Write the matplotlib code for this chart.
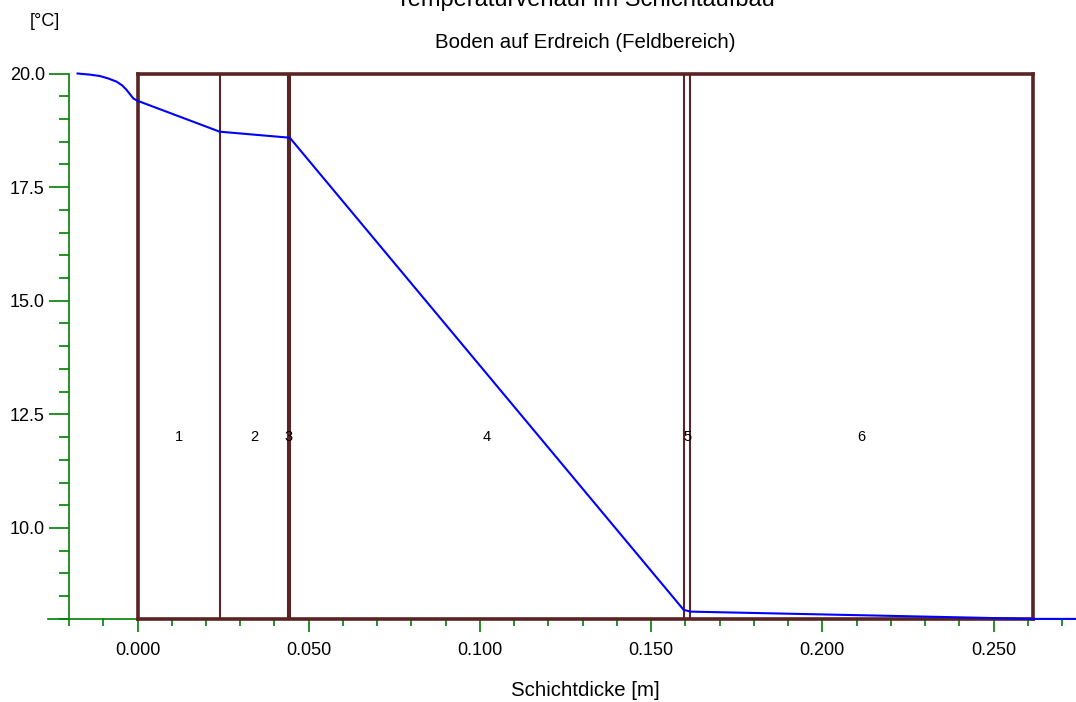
import matplotlib
matplotlib.use("Agg")
import matplotlib.pyplot as plt
from matplotlib.ticker import FixedLocator

plt.rcParams['font.family'] = ['Liberation Sans', 'DejaVu Sans']

# ---- data ----
layer_names = ["1", "2", "3", "4", "5", "6"]
layer_thickness = [0.024, 0.020, 0.0005, 0.115, 0.002, 0.100]  # m

# interior boundary-layer curve (left of x=0)
inner_x = [-0.0175, -0.0139, -0.0110, -0.0085, -0.0061, -0.0045, -0.0032, -0.0012, 0.0]
inner_t = [20.0, 19.975, 19.945, 19.89, 19.82, 19.74, 19.64, 19.45, 19.40]
# temperatures at layer interfaces
interface_t = [19.40, 18.72, 18.59, 18.585, 8.20, 8.16, 8.00]
outer_x = [0.2615, 0.2741]
outer_t = [8.00, 8.00]

x_ticks = [0.0, 0.05, 0.10, 0.15, 0.20, 0.25]
x_ticklabels = ["0.000", "0.050", "0.100", "0.150", "0.200", "0.250"]
y_ticks = [10.0, 12.5, 15.0, 17.5, 20.0]
y_ticklabels = ["10.0", "12.5", "15.0", "17.5", "20.0"]

t_min, t_max = 8.0, 20.0

# ---- figure ----
W, H = 1076, 702
fig = plt.figure(figsize=(W / 100, H / 100), dpi=100)
ax = fig.add_axes([0, 0, 1, 1])
ax.patch.set_alpha(0)

px_per_m = 3424.0
px_per_deg = 45.45
x0_px, y20_px = 137.5, 73.5
ax.set_xlim(-x0_px / px_per_m, (W - x0_px) / px_per_m)
ax.set_ylim(20 - (H - y20_px) / px_per_deg, 20 + y20_px / px_per_deg)

brown = '#5b2424'
green = '#008000'
blue = '#0000ff'

# boundaries
bounds = [0.0]
for t in layer_thickness:
    bounds.append(bounds[-1] + t)
total = bounds[-1]

# frame
for xx, yy in [([0, 0], [t_min, t_max]), ([total, total], [t_min, t_max]),
               ([0, total], [t_max, t_max]), ([0, total], [t_min, t_min])]:
    ax.plot(xx, yy, color=brown, lw=2.6, zorder=3, solid_capstyle='projecting')
for b in bounds[1:-1]:
    ax.plot([b, b], [t_min, t_max], color=brown, lw=1.5, zorder=3)

# layer labels
for name, a, b in zip(layer_names, bounds[:-1], bounds[1:]):
    ax.text((a + b) / 2, 12.0, name, ha='center', va='center', fontsize=10.5, zorder=5)

# temperature curve
xs = inner_x + bounds[1:] + outer_x[1:]
ts = inner_t + interface_t[1:] + outer_t[1:]
ax.plot(xs, ts, color=blue, lw=1.5, zorder=4)

# axes / spines
for s in ['top', 'right']:
    ax.spines[s].set_visible(False)
ax.spines['left'].set_position(('data', -0.02))
ax.spines['left'].set_bounds(t_min, t_max)
ax.spines['bottom'].set_position(('data', t_min))
ax.spines['bottom'].set_bounds(-0.0262, (W - x0_px) / px_per_m)
for s in ['left', 'bottom']:
    ax.spines[s].set_color(green)
    ax.spines[s].set_linewidth(1.2)
    ax.spines[s].set_zorder(2)

ax.xaxis.set_major_locator(FixedLocator(x_ticks))
ax.set_xticklabels(x_ticklabels)
ax.xaxis.set_minor_locator(FixedLocator([i * 0.01 for i in range(-2, 28)]))
ax.yaxis.set_major_locator(FixedLocator(y_ticks))
ax.set_yticklabels(y_ticklabels)
ax.yaxis.set_minor_locator(FixedLocator([8.0 + 0.5 * i for i in range(25)]))

ax.tick_params(axis='x', which='major', direction='out', length=9.5, width=1.2,
               color=green, labelsize=13, pad=7)
ax.tick_params(axis='x', which='minor', direction='out', length=4.8, width=1.2, color=green)
ax.tick_params(axis='y', which='major', direction='out', length=14.4, width=1.2,
               color=green, labelsize=13, pad=3)
ax.tick_params(axis='y', which='minor', direction='out', length=7.2, width=1.2, color=green)

# texts
fig.text(585 / W, 1 - 6 / H, "Temperaturverlauf im Schichtaufbau", ha='center',
         va='baseline', fontsize=17)
fig.text(585 / W, 1 - 48 / H, "Boden auf Erdreich (Feldbereich)", ha='center',
         va='baseline', fontsize=14.7)
fig.text(45 / W, 1 - 21 / H, "[°C]", ha='center', va='center', fontsize=13)
fig.text(585 / W, 1 - 696 / H, "Schichtdicke [m]", ha='center', va='baseline', fontsize=14.7)

fig.savefig("out.png", dpi=100)
